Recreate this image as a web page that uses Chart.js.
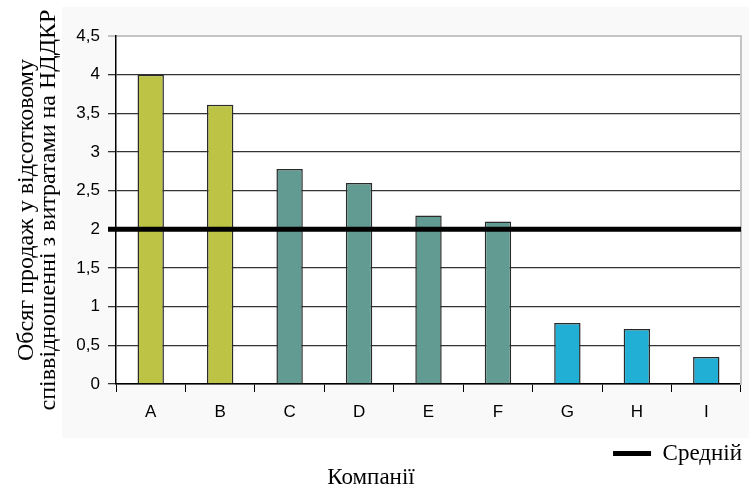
<!DOCTYPE html>
<html>
<head>
  <meta charset="utf-8">
  <title>Обсяг продажу / НДДКР</title>
  <script src="https://cdn.jsdelivr.net/npm/chart.js@4/dist/chart.umd.min.js"></script>
  <style>
    body { margin: 0; background: #fff; }
    #wrap { width: 749px; height: 492px; }
  </style>
</head>
<body>
  <div id="wrap"><canvas id="chart"></canvas></div>
  <script>
    var companies = ['A', 'B', 'C', 'D', 'E', 'F', 'G', 'H', 'I'];
    var salesRatio = [4.0, 3.61, 2.78, 2.6, 2.18, 2.1, 0.79, 0.71, 0.35];
    var barColors = ['#bdc445', '#bdc445', '#629b92', '#629b92', '#629b92', '#629b92', '#22afd5', '#22afd5', '#22afd5'];
    var average = 2;
    var yTicks = [0, 0.5, 1, 1.5, 2, 2.5, 3, 3.5, 4, 4.5];

    var serif = '"Liberation Serif", "DejaVu Serif", serif';
    var sans = '"Liberation Sans", Arial, sans-serif';

    // faint grey panel behind the chart
    var panel = {
      id: 'panel',
      beforeDraw: function (c) {
        var g = c.ctx;
        g.save();
        g.fillStyle = '#f9f9f9';
        g.fillRect(62, 7, 687, 431);
        g.fillStyle = '#fff';
        var a = c.chartArea;
        g.fillRect(a.left, a.top, a.right - a.left, a.bottom - a.top);
        g.restore();
      }
    };

    var chart = new Chart(document.getElementById('chart'), {
      data: {
        labels: companies,
        datasets: [{
          type: 'bar',
          label: 'Обсяг',
          data: salesRatio,
          backgroundColor: barColors,
          borderColor: '#2a2a2a',
          borderWidth: 1.5,
          grouped: false,
          barPercentage: 0.38,
          categoryPercentage: 1,
          order: 2
        }, {
          type: 'line',
          label: 'Средній',
          xAxisID: 'x2',
          data: [{x: 0, y: average}, {x: 1, y: average}],
          borderColor: '#000',
          backgroundColor: '#000',
          borderWidth: 5,
          pointRadius: 0,
          clip: false,
          order: 1
        }]
      },
      options: {
        responsive: true,
        maintainAspectRatio: false,
        animation: false,
        layout: { padding: { top: 36, right: 7, left: 0, bottom: 0 } },
        scales: {
          x: {
            type: 'category',
            grid: { offset: true, drawOnChartArea: false, color: '#000', tickLength: 8 },
            border: { color: '#000', width: 1.5 },
            ticks: { color: '#000', font: { family: sans, size: 17 }, padding: 10 },
            afterFit: function (s) { s.height = 58; }
          },
          // the average line starts at the tick left of the y axis
          x2: { type: 'linear', display: false, min: 0.0126, max: 1 },
          y: {
            min: 0,
            max: 4.5,
            afterBuildTicks: function (s) { s.ticks = yTicks.map(function (v) { return {value: v}; }); },
            ticks: {
              color: '#000',
              font: { family: sans, size: 17 },
              padding: 8,
              callback: function (v) { return String(v).replace('.', ','); }
            },
            grid: {
              color: function (ctx) { return ctx.tick && ctx.tick.value === 4.5 ? '#c4c4c4' : '#333'; },
              lineWidth: function (ctx) { return ctx.tick && ctx.tick.value === 4.5 ? 2 : 1.3; },
              tickLength: 8
            },
            border: { color: '#000', width: 1.5 },
            title: {
              display: true,
              text: ['Обсяг продаж у відсотковому', 'співвідношенні з витратами на НДДКР'],
              color: '#000',
              font: { family: serif, size: 24, lineHeight: 0.9 },
              padding: { top: 16, bottom: 4 }
            },
            afterFit: function (s) { s.width = 116; }
          },
          yr: {
            position: 'right',
            min: 0, max: 4.5,
            ticks: { display: false },
            grid: { drawOnChartArea: false, drawTicks: false },
            border: { color: '#c4c4c4', width: 2 },
            afterFit: function (s) { s.width = 1; }
          }
        },
        plugins: {
          legend: {
            position: 'bottom',
            align: 'end',
            labels: {
              filter: function (item) { return item.text === 'Средній'; },
              usePointStyle: true,
              pointStyle: 'line',
              pointStyleWidth: 38,
              color: '#000',
              font: { family: serif, size: 23, lineHeight: 1 },
              padding: 0
            }
          },
          title: {
            display: true,
            position: 'bottom',
            text: 'Компанії',
            color: '#000',
            font: { family: serif, size: 23, weight: 'normal', lineHeight: 1 },
            padding: { top: -9, bottom: 3 }
          },
          tooltip: { enabled: false }
        }
      },
      plugins: [panel]
    });
  </script>
</body>
</html>
